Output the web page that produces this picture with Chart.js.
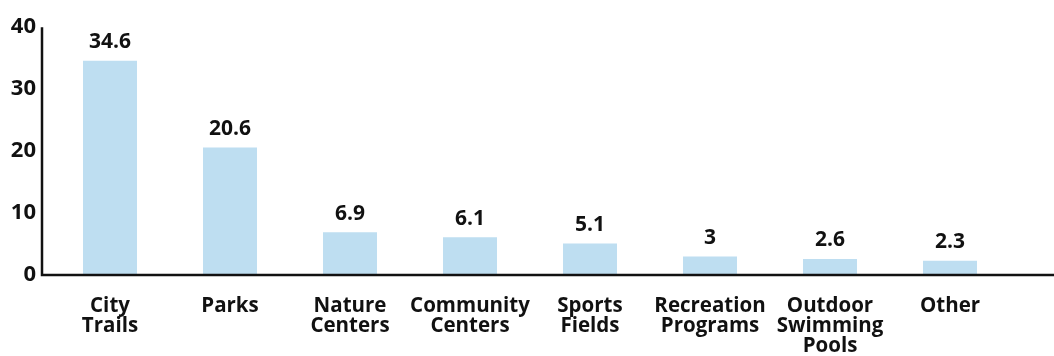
<!DOCTYPE html>
<html>
<head>
<meta charset="utf-8">
<script src="https://cdn.jsdelivr.net/npm/chart.js@4/dist/chart.umd.min.js"></script>
<style>
  html, body { margin: 0; padding: 0; background: #fff; }
  #wrap { width: 1054px; height: 356px; position: relative; }
</style>
</head>
<body>
<div id="wrap"><canvas id="chart"></canvas></div>
<script>
const categories = [
    ['City', 'Trails'],
    'Parks',
    ['Nature', 'Centers'],
    ['Community', 'Centers'],
    ['Sports', 'Fields'],
    ['Recreation', 'Programs'],
    ['Outdoor', 'Swimming', 'Pools'],
    'Other'
];
const values = [34.6, 20.6, 6.9, 6.1, 5.1, 3, 2.6, 2.3];
const yTicks = [0, 10, 20, 30, 40];

const FONT = '"Open Sans", "DejaVu Sans", sans-serif';
const INK = '#111111';

// Axis lines: the y axis sits a little left of the first category,
// the x axis runs on to the right edge of the canvas
const axisLines = {
    id: 'axisLines',
    afterDraw(chart) {
        const ctx = chart.ctx;
        const y = chart.scales.y;
        const x0 = chart.chartArea.left - 8;
        const yZero = y.getPixelForValue(0);
        const yTop = y.getPixelForValue(yTicks[yTicks.length - 1]);
        ctx.save();
        ctx.strokeStyle = INK;
        ctx.lineWidth = 2.5;
        ctx.beginPath();
        ctx.moveTo(x0, yTop);
        ctx.lineTo(x0, yZero);
        ctx.lineTo(chart.width, yZero);
        ctx.stroke();
        ctx.restore();
    }
};

// Value printed above each bar
const valueLabels = {
    id: 'valueLabels',
    afterDatasetsDraw(chart) {
        const ctx = chart.ctx;
        const meta = chart.getDatasetMeta(0);
        ctx.save();
        ctx.font = 'bold 21px ' + FONT;
        ctx.fillStyle = INK;
        ctx.textAlign = 'center';
        ctx.textBaseline = 'bottom';
        meta.data.forEach((bar, i) => {
            ctx.fillText(String(values[i]), bar.x, bar.y - 8);
        });
        ctx.restore();
    }
};

new Chart(document.getElementById('chart'), {
    type: 'bar',
    data: {
        labels: categories,
        datasets: [{
            data: values,
            backgroundColor: '#bedef1',
            borderWidth: 0,
            barPercentage: 0.45,
            categoryPercentage: 1
        }]
    },
    options: {
        responsive: true,
        maintainAspectRatio: false,
        animation: false,
        layout: {
            padding: { top: 16, right: 44, bottom: 0, left: 0 }
        },
        plugins: {
            legend: { display: false },
            tooltip: { enabled: false }
        },
        scales: {
            x: {
                grid: { display: false, drawTicks: false },
                border: { display: false },
                ticks: {
                    color: INK,
                    padding: 21,
                    maxRotation: 0,
                    autoSkip: false,
                    font: { family: FONT, size: 20.5, weight: 'bold', lineHeight: 0.97 }
                },
                afterFit(scale) { scale.height = 81; }
            },
            y: {
                min: 0,
                max: 40,
                grid: { display: false, drawTicks: false },
                border: { display: false },
                afterBuildTicks(scale) {
                    scale.ticks = yTicks.map(v => ({ value: v }));
                },
                ticks: {
                    color: INK,
                    padding: 14,
                    font: { family: FONT, size: 22, weight: 'bold' }
                },
                afterFit(scale) { scale.width = 50; }
            }
        }
    },
    plugins: [axisLines, valueLabels]
});
</script>
</body>
</html>
